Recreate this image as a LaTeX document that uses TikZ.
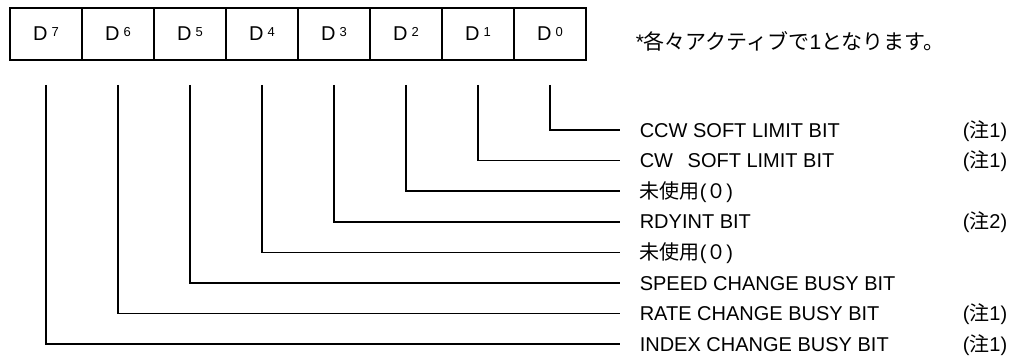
\documentclass[tikz,border=0pt]{standalone}
\usepackage{fontspec}
\setmainfont{Liberation Sans}
\newfontfamily\jp{Noto Sans CJK JP}
\usetikzlibrary{positioning}

\begin{document}
\begin{tikzpicture}[x=1pt,y=-1pt,line width=1.6pt,font=\fontsize{20}{24}\selectfont,
  cell/.style={draw,minimum width=72pt,minimum height=52pt,inner sep=0pt},
  lbl/.style={anchor=west,inner xsep=19pt,inner ysep=0pt,text height=14.3pt,text depth=0pt},
  note/.style={anchor=west,inner sep=0pt,text height=14.3pt,text depth=0pt}]
\useasboundingbox (0,0) rectangle (1021,356);
% register cells D7 ... D0
\foreach \i in {0,...,7}
  \node[cell] (d\i) at ({46+72*(7-\i)},34) {D\hspace{4pt}\raisebox{4.5pt}{\fontsize{13}{13}\selectfont\i}};
\node[anchor=west,inner sep=0pt,font=\fontsize{21}{24}\selectfont] (tip) at (635,41) {*{\jp 各々アクティブで}1{\jp となります。}};
% bit names
\node[lbl] (b0) at (620,130.0) {CCW SOFT LIMIT BIT};
\node[lbl] (b1) at (620,160.6) {CW\hspace{9pt} SOFT LIMIT BIT};
\node[lbl] (b2) at (620,191.1) {{\jp 未使用}({\jp ０})};
\node[lbl] (b3) at (620,221.7) {RDYINT BIT};
\node[lbl] (b4) at (620,252.3) {{\jp 未使用}({\jp ０})};
\node[lbl] (b5) at (620,282.9) {SPEED CHANGE BUSY BIT};
\node[lbl] (b6) at (620,313.4) {RATE CHANGE BUSY BIT};
\node[lbl] (b7) at (620,344.0) {INDEX CHANGE BUSY BIT};
% notes
\node[note] (n0) at (962,130.0) {({\jp 注}1)};
\node[note] (n1) at (962,160.6) {({\jp 注}1)};
\node[note] (n3) at (962,221.7) {({\jp 注}2)};
\node[note] (n6) at (962,313.4) {({\jp 注}1)};
\node[note] (n7) at (962,344.0) {({\jp 注}1)};
% leaders
\foreach \i in {0,...,7}
  \draw ([yshift=-24pt]d\i.south) |- (b\i.west);
\end{tikzpicture}
\end{document}
